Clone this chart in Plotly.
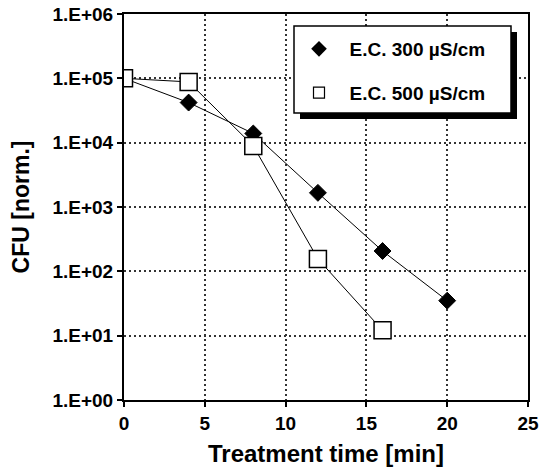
import plotly.graph_objects as go

# Data
time_300 = [0, 4, 8, 12, 16, 20]
cfu_300 = [1.0e5, 4.2e4, 1.39e4, 1.66e3, 207, 35]
time_500 = [0, 4, 8, 12, 16]
cfu_500 = [1.0e5, 8.8e4, 8.9e3, 156, 12.1]
series_names = ["E.C. 300 \u00b5S/cm", "E.C. 500 \u00b5S/cm"]
y_tickvals = [1, 10, 100, 1000, 10000, 100000, 1000000]
y_ticktext = ["1.E+00", "1.E+01", "1.E+02", "1.E+03", "1.E+04", "1.E+05", "1.E+06"]
x_tickvals = [0, 5, 10, 15, 20, 25]

FONT = "Liberation Sans, Arial, sans-serif"

fig = go.Figure()
fig.add_trace(go.Scatter(
    x=time_300, y=cfu_300, mode="lines+markers", showlegend=False,
    line=dict(color="black", width=1),
    marker=dict(symbol="diamond", size=13, color="black", line=dict(color="black", width=1)),
))
fig.add_trace(go.Scatter(
    x=time_500, y=cfu_500, mode="lines+markers", showlegend=False,
    line=dict(color="black", width=1),
    marker=dict(symbol="square", size=17, color="white", line=dict(color="black", width=1.5)),
))
# legend-only entries
fig.add_trace(go.Scatter(
    x=[None], y=[None], mode="markers", name="\u00a0\u00a0" + series_names[0], legendgroup="a",
    marker=dict(symbol="diamond", size=12, color="black"),
))
fig.add_trace(go.Scatter(
    x=[None], y=[None], mode="markers", name="\u00a0\u00a0" + series_names[1], legendgroup="b",
    marker=dict(symbol="square", size=11, color="white", line=dict(color="black", width=1.2)),
))

def px_x(p):
    return (p - 124) / 404.0

def px_y(p):
    return (400 - p) / 386.0

shapes = [
    dict(type="rect", xref="paper", yref="paper", layer="above",
         x0=px_x(300), x1=px_x(517), y0=px_y(119), y1=px_y(32),
         fillcolor="black", line=dict(color="black", width=0)),
    dict(type="rect", xref="paper", yref="paper", layer="above",
         x0=px_x(294), x1=px_x(511), y0=px_y(113), y1=px_y(26),
         fillcolor="white", line=dict(color="black", width=1.5)),
]

GRID_DASH = "1.5px,3.5px"

fig.update_layout(
    template="none",
    width=546, height=468,
    margin=dict(l=124, r=18, t=14, b=68),
    paper_bgcolor="white", plot_bgcolor="white",
    font=dict(family=FONT, color="black"),
    shapes=shapes,
    showlegend=True,
    legend=dict(
        x=px_x(299), y=px_y(30), xanchor="left", yanchor="top",
        bgcolor="rgba(0,0,0,0)", borderwidth=0,
        font=dict(family=FONT, size=19, color="black", weight="bold"),
        traceorder="grouped", tracegroupgap=16,
    ),
    xaxis=dict(
        range=[0, 25], tickvals=x_tickvals, automargin=False,
        showline=True, linecolor="black", linewidth=2, mirror=True,
        ticks="outside", ticklen=5, tickwidth=1.5, tickcolor="black",
        showgrid=True, gridcolor="#333", griddash=GRID_DASH, gridwidth=1.5,
        zeroline=False,
        tickfont=dict(family=FONT, size=19, weight="bold", color="black"),
        title=dict(text="Treatment time [min]", font=dict(family=FONT, size=24, weight="bold", color="black"), standoff=12),
    ),
    yaxis=dict(
        type="log", range=[0, 6], tickvals=y_tickvals, ticktext=y_ticktext, automargin=False,
        showline=True, linecolor="black", linewidth=2, mirror=True,
        ticks="outside", ticklen=5, tickwidth=1.5, tickcolor="black",
        showgrid=True, gridcolor="#333", griddash=GRID_DASH, gridwidth=1.5,
        zeroline=False,
        tickfont=dict(family=FONT, size=19, weight="bold", color="black"),
        title=dict(text="CFU [norm.]", font=dict(family=FONT, size=23, weight="bold", color="black"), standoff=16),
    ),
)

fig.write_html("out.html", config={"displayModeBar": False},
               post_script="document.body.style.margin='0px';")
